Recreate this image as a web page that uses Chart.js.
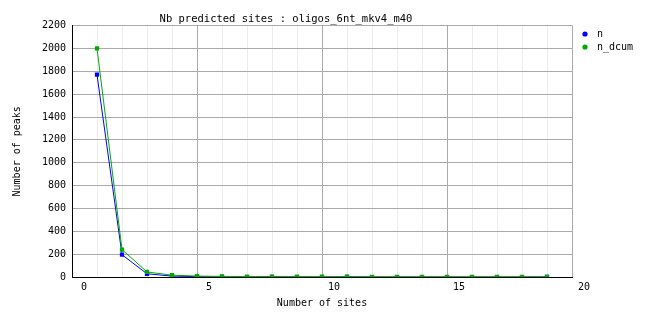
<!DOCTYPE html>
<html>
<head>
<meta charset="utf-8">
<script src="https://cdn.jsdelivr.net/npm/chart.js@4.4.0/dist/chart.umd.min.js"></script>
<style>
  html, body { margin: 0; padding: 0; background: #fff; }
  #wrap { width: 662px; height: 328px; }
</style>
</head>
<body>
<div id="wrap"><canvas id="sitesChart"></canvas></div>
<script>
// values
const sites = [1, 2, 3, 4, 5, 6, 7, 8, 9, 10, 11, 12, 13, 14, 15, 16, 17, 18, 19];
const nPeaks = [1770, 195, 28, 8, 3, 1, 0, 1, 0, 0, 1, 0, 0, 0, 0, 0, 0, 0, 1];
const nDcum = [2000, 240, 44, 16, 8, 5, 4, 4, 3, 3, 3, 2, 2, 2, 2, 2, 2, 2, 1];
const seriesNames = ['n', 'n_dcum'];
const seriesColors = ['#0000ff', '#00aa00'];

const MONO = '"DejaVu Sans Mono", "Liberation Mono", monospace';

function toPoints(values) {
    return sites.map(function (x, i) { return {x: x, y: values[i]}; });
}

// little legend on the right, like the original
const sideLegend = {
    id: 'sideLegend',
    afterDraw: function (chart) {
        const ctx = chart.ctx;
        ctx.save();
        ctx.font = '10px ' + MONO;
        ctx.textBaseline = 'middle';
        chart.data.datasets.forEach(function (ds, i) {
            let y = 34 + i * 13;
            ctx.fillStyle = ds.borderColor;
            ctx.beginPath();
            ctx.arc(585, y, 2.6, 0, Math.PI * 2);
            ctx.fill();
            ctx.fillStyle = '#000';
            ctx.fillText(ds.label, 597, y);
        });
        ctx.restore();
    }
};

let datasets = [nPeaks, nDcum].map(function (values, i) {
    return {
        label: seriesNames[i],
        data: toPoints(values),
        borderColor: seriesColors[i],
        backgroundColor: seriesColors[i],
        borderWidth: 1,
        pointStyle: 'rect',
        pointRadius: 3,
        pointBorderWidth: 0,
        tension: 0,
        order: i === 0 ? 1 : 0
    };
});

new Chart(document.getElementById('sitesChart'), {
    type: 'line',
    data: {datasets: datasets},
    plugins: [sideLegend],
    options: {
        responsive: true,
        maintainAspectRatio: false,
        animation: false,
        layout: {padding: {left: 0, right: 90, top: 0, bottom: 0}},
        plugins: {
            legend: {display: false},
            tooltip: {enabled: false},
            title: {
                display: true,
                text: 'Nb predicted sites : oligos_6nt_mkv4_m40',
                color: '#000',
                font: {family: MONO, size: 10.5, weight: 'normal', lineHeight: 1.2},
                padding: {top: 13, bottom: 0}
            }
        },
        scales: {
            x: {
                type: 'linear',
                min: 0,
                max: 20,
                afterFit: function (scale) { scale.height = 51; },
                ticks: {
                    stepSize: 1,
                    autoSkip: false,
                    maxRotation: 0,
                    padding: 4,
                    labelOffset: 12,
                    color: '#000',
                    font: {family: MONO, size: 10},
                    callback: function (v) { return v % 5 === 0 ? String(v) : ''; }
                },
                grid: {
                    drawTicks: false,
                    color: function (c) { return c.tick && c.tick.value % 5 === 0 ? '#aaaaaa' : '#ececec'; }
                },
                border: {color: '#000', width: 1},
                title: {
                    display: true,
                    text: 'Number of sites',
                    color: '#000',
                    font: {family: MONO, size: 10, lineHeight: 1.2},
                    padding: {top: 0, bottom: 19}
                }
            },
            y: {
                min: 0,
                max: 2200,
                afterFit: function (scale) { scale.width = 72; },
                ticks: {
                    stepSize: 200,
                    padding: 6,
                    color: '#000',
                    font: {family: MONO, size: 10},
                    callback: function (v) { return String(v); }
                },
                grid: {drawTicks: false, color: '#aaaaaa'},
                border: {color: '#000', width: 1},
                title: {
                    display: true,
                    text: 'Number of peaks',
                    color: '#000',
                    font: {family: MONO, size: 10, lineHeight: 1.2},
                    padding: {top: 11, bottom: 0}
                }
            }
        }
    }
});
</script>
</body>
</html>
